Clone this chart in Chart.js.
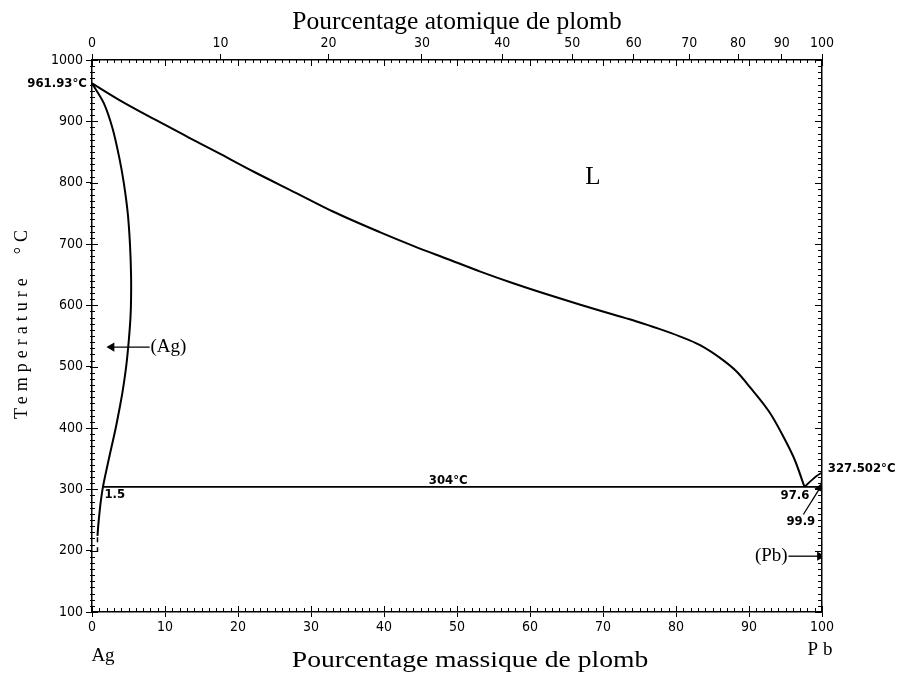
<!DOCTYPE html>
<html>
<head>
<meta charset="utf-8">
<title>Ag-Pb</title>
<script src="https://cdn.jsdelivr.net/npm/chart.js@4.4.1/dist/chart.umd.min.js"></script>
<style>
  body { margin: 0; background: #fff; }
</style>
</head>
<body>
<canvas id="diagram" width="900" height="675"></canvas>
<script>
// tick labels
const massTicks = [0, 10, 20, 30, 40, 50, 60, 70, 80, 90, 100];
const tempTicks = [100, 200, 300, 400, 500, 600, 700, 800, 900, 1000];
const atomicLabels = [0, 10, 20, 30, 40, 50, 60, 70, 80, 90, 100];
// where each atomic % tick falls on the mass % scale
const atomicPos = [0, 17.6, 32.4, 45.2, 56.2, 65.8, 74.2, 81.8, 88.5, 94.5, 100];

// liquidus, Ag side down to the eutectic
const liqX = [0, 4, 8.6, 13.2, 17.7, 22.3, 28, 33, 39.5, 44, 48.6, 53.2, 57.7, 62.3, 66.9, 71.4, 74.5, 77.6, 80.5, 83.3, 86.4, 88.3, 90.1, 92.9, 94.7, 96.3, 97.6];
const liqT = [961.93, 933, 903, 874, 846, 817, 783, 753, 719, 697, 676, 655, 636, 618, 601, 585, 574, 562, 549.5, 535, 511, 492, 467, 424, 386, 347, 304];

// solidus + solvus of (Ag)
const solX = [0, 1.6, 2.8, 3.75, 4.35, 4.9, 5.2, 5.35, 5.35, 5.27, 5.02, 4.68, 4.2, 3.9, 3.25, 2.5, 1.95, 1.5, 1.2, 1.02, 0.85, 0.75];
const solT = [961.93, 930, 889, 840, 800, 750, 700, 650, 610, 580, 540, 500, 460, 440, 400, 360, 330, 304, 280, 261, 240, 224];
const solDashX = [0.75, 0.75];
const solDashT = [222, 198];

// eutectic
const eutX = [1.5, 100];
const eutT = [304, 304];

// Pb side
const liqPbX = [97.6, 98.6, 99.3, 100];
const liqPbT = [304, 315, 322, 327.502];
const solPbX = [99.9, 100];
const solPbT = [304, 327.502];

// arrows (tail, head)
const arrAgX = [7.9, 2.7];
const arrAgT = [532, 532];
const arrPbX = [95.4, 99.7];
const arrPbT = [191, 191];
const arr999X = [97.45, 99.7];
const arr999T = [259, 302];

function pts(xs, ys) {
  return xs.map((x, i) => ({ x: x, y: ys[i] }));
}

const sans = "'Liberation Sans Narrow', 'DejaVu Sans Condensed', 'DejaVu Sans', sans-serif";
const serif = "'Liberation Serif', 'DejaVu Serif', serif";
const tickFont = { family: sans, size: 14 };

function line(xs, ys, w, extra) {
  return Object.assign({
    data: pts(xs, ys),
    showLine: true,
    borderColor: '#000',
    backgroundColor: '#000',
    borderWidth: w,
    pointRadius: 0,
    tension: 0.3
  }, extra || {});
}

function arrow(xs, ys, rot) {
  return line(xs, ys, 1.3, {
    tension: 0,
    pointStyle: 'triangle',
    pointRadius: [0, 4],
    rotation: [0, rot]
  });
}

// small ticks on all four sides + texts
const decor = {
  id: 'decor',
  afterDraw(chart) {
    const ctx = chart.ctx;
    const a = chart.chartArea;
    const sx = chart.scales.x;
    const sy = chart.scales.y;
    ctx.save();
    ctx.strokeStyle = '#000';
    ctx.lineWidth = 1;
    ctx.beginPath();
    for (let v = 0; v <= 100; v++) {
      const px = Math.round(sx.getPixelForValue(v)) + 0.5;
      const big = v % 10 === 0;
      ctx.moveTo(px, a.bottom); ctx.lineTo(px, a.bottom - (big ? 6 : 4));
      ctx.moveTo(px, a.top); ctx.lineTo(px, a.top + (big ? 6 : 3));
    }
    for (let t = 100; t <= 1000; t += 10) {
      const py = Math.round(sy.getPixelForValue(t)) + 0.5;
      const big = t % 100 === 0;
      ctx.moveTo(a.left - 2, py); ctx.lineTo(a.left + (big ? 6 : 3), py);
      ctx.moveTo(a.right, py); ctx.lineTo(a.right - (big ? 7 : 4), py);
    }
    ctx.stroke();

    ctx.fillStyle = '#000';
    function txt(s, x, t, font, align) {
      ctx.font = font;
      ctx.textAlign = align || 'center';
      ctx.textBaseline = 'middle';
      ctx.fillText(s, sx.getPixelForValue(x), sy.getPixelForValue(t));
    }
    const small = 'bold 13px ' + sans;
    txt('961.93°C', -0.7, 961, small, 'right');
    txt('327.502°C', 100.8, 334, small, 'left');
    txt('304°C', 48.8, 315, small);
    txt('1.5', 1.7, 291, small, 'left');
    txt('97.6', 96.3, 290, small);
    txt('99.9', 97.1, 247, small);
    txt('L', 68.6, 808, '25px ' + serif);
    txt('(Ag)', 8.0, 532, '19px ' + serif, 'left');
    txt('(Pb)', 95.3, 191, '19px ' + serif, 'right');

    // axis titles
    ctx.textAlign = 'center';
    ctx.textBaseline = 'middle';
    ctx.font = '25.5px ' + serif;
    ctx.fillText('Pourcentage atomique de plomb', 457, 22);
    ctx.save();
    ctx.translate(470, 661);
    ctx.scale(1.15, 1);
    ctx.font = '24px ' + serif;
    ctx.fillText('Pourcentage massique de plomb', 0, 0);
    ctx.restore();
    ctx.font = '19px ' + serif;
    ctx.fillText('Ag', 103, 656);
    ctx.fillText('P b', 820, 650);
    ctx.save();
    ctx.translate(22, 322);
    ctx.rotate(-Math.PI / 2);
    ctx.font = '18px ' + serif;
    ctx.letterSpacing = '5px';
    ctx.fillText('Temperature  °C', 0, 0);
    ctx.restore();
    ctx.restore();
  }
};

const border = { display: true, color: '#000', width: 1.5 };

new Chart(document.getElementById('diagram'), {
  type: 'scatter',
  data: {
    datasets: [
      line(liqX, liqT, 2, { cubicInterpolationMode: 'monotone' }),
      line(solX, solT, 2),
      line(solDashX, solDashT, 1.5, { tension: 0, borderDash: [5, 5] }),
      line(eutX, eutT, 1.7, { tension: 0 }),
      line(liqPbX, liqPbT, 1.8),
      line(solPbX, solPbT, 1.5, { tension: 0 }),
      arrow(arrAgX, arrAgT, -90),
      arrow(arrPbX, arrPbT, 90),
      arrow(arr999X, arr999T, 22)
    ]
  },
  options: {
    responsive: false,
    animation: false,
    layout: { padding: 0 },
    plugins: { legend: { display: false }, tooltip: { enabled: false } },
    scales: {
      x: {
        type: 'linear', position: 'bottom', min: 0, max: 100,
        afterFit(s) { s.height = 63; },
        afterBuildTicks(s) { s.ticks = massTicks.map(v => ({ value: v })); },
        grid: { drawOnChartArea: false, tickLength: 5, color: '#000' },
        border: border,
        ticks: { font: tickFont, color: '#000', padding: 2, maxRotation: 0, autoSkip: false, callback: v => String(v) }
      },
      x2: {
        type: 'linear', position: 'top', min: 0, max: 100,
        afterFit(s) { s.height = 60; },
        afterBuildTicks(s) { s.ticks = atomicPos.map(v => ({ value: v })); },
        grid: { drawOnChartArea: false, tickLength: 6, color: '#000' },
        border: border,
        ticks: {
          font: tickFont, color: '#000', padding: 2, maxRotation: 0, autoSkip: false,
          callback: (v, i) => String(atomicLabels[i])
        }
      },
      y: {
        type: 'linear', position: 'left', min: 100, max: 1000,
        afterFit(s) { s.width = 92; },
        afterBuildTicks(s) { s.ticks = tempTicks.map(v => ({ value: v })); },
        grid: { drawOnChartArea: false, tickLength: 6, color: '#000' },
        border: border,
        ticks: { font: tickFont, color: '#000', padding: 3, callback: v => String(v) }
      },
      y2: {
        type: 'linear', position: 'right', min: 100, max: 1000,
        afterFit(s) { s.width = 78; },
        grid: { drawOnChartArea: false, drawTicks: false },
        border: border,
        ticks: { display: false }
      }
    }
  },
  plugins: [decor]
});
</script>
</body>
</html>
